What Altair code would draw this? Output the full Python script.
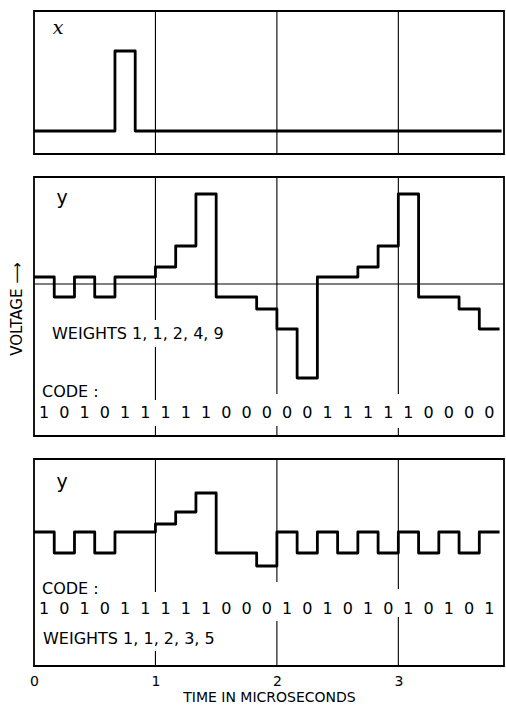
import altair as alt
import pandas as pd

FONT = "DejaVu Sans"
BIT = 1 / 6          # one code digit lasts 1/6 microsecond
T_END = 3.87         # right edge of the time axis (microseconds)
X_LINE_END = 3.85    # where the input trace stops
WIDTH = 470

# input x: a single pulse one digit long
x_levels = [0, 0, 0, 0, 1, 0, 0, 0, 0, 0, 0, 0, 0, 0, 0, 0, 0, 0, 0, 0, 0, 0, 0]

# output y with weights 1,1,2,4,9 (one level per code digit)
code_a = [1, 0, 1, 0, 1, 1, 1, 1, 1, 0, 0, 0, 0, 0, 1, 1, 1, 1, 1, 0, 0, 0, 0]
y_a_levels = [0.7, -1.3, 0.7, -1.3, 0.7, 0.7, 1.7, 3.8, 9.0, -1.3, -1.3, -2.5,
              -4.5, -9.4, 0.7, 0.7, 1.7, 3.8, 9.0, -1.3, -1.3, -2.5, -4.5]

# output y with weights 1,1,2,3,5
code_b = [1, 0, 1, 0, 1, 1, 1, 1, 1, 0, 0, 0, 1, 0, 1, 0, 1, 0, 1, 0, 1, 0, 1]
y_b_levels = [0.7, -1.4, 0.7, -1.4, 0.7, 0.7, 1.5, 2.7, 4.6, -1.4, -1.4, -2.7,
              0.7, -1.4, 0.7, -1.4, 0.7, -1.4, 0.7, -1.4, 0.7, -1.4, 0.7]

grid_times = [1, 2, 3]
tick_values = [0, 1, 2, 3]

time_axis = alt.Axis(
    values=tick_values, format="d", labelFlush=False, domain=False, ticks=False,
    grid=False, labelFont=FONT, labelFontSize=14, labelColor="black", labelPadding=8,
    title="TIME IN MICROSECONDS", titleFont=FONT, titleFontSize=14,
    titleFontWeight="normal", titleColor="black", titlePadding=2,
)


def xenc(axis):
    return alt.X("t:Q", scale=alt.Scale(domain=[0, T_END], nice=False, zero=False), axis=axis)


def yenc(domain):
    return alt.Y("v:Q", scale=alt.Scale(domain=domain, nice=False, zero=False), axis=None)


def steps(levels, end):
    t = [i * BIT for i in range(len(levels))] + [end]
    v = list(levels) + [levels[-1]]
    return pd.DataFrame({"t": t, "v": v})


def signal(levels, end, domain, axis):
    return alt.Chart(steps(levels, end)).mark_line(
        interpolate="step-after", color="black", strokeWidth=2.8, strokeJoin="round"
    ).encode(x=xenc(axis), y=yenc(domain))


def grid(spans, axis):
    # vertical time grid, broken where lettering crosses it
    layers = []
    for t, segs in spans.items():
        for y0, y1 in segs:
            layers.append(
                alt.Chart(pd.DataFrame({"t": [t]}))
                .mark_rule(color="black", strokeWidth=1.1, strokeCap="butt")
                .encode(x=xenc(axis), y=alt.value(y0), y2=alt.value(y1))
            )
    return layers


def label(s, x, y, size=16, font=FONT, style="normal", align="left", angle=0):
    return alt.Chart(pd.DataFrame({"s": [s]})).mark_text(
        align=align, baseline="middle", font=font, fontSize=size, fontStyle=style,
        color="black", angle=angle,
    ).encode(x=alt.value(x), y=alt.value(y), text="s:N")


def code_row(code, y, axis):
    df = pd.DataFrame({"t": [(i + 0.5) * BIT for i in range(len(code))],
                       "s": [str(c) for c in code]})
    return alt.Chart(df).mark_text(
        font=FONT, fontSize=16, baseline="middle", color="black"
    ).encode(x=xenc(axis), y=alt.value(y), text="s:N")


# panel 1: input pulse x
H1 = 143
dom1 = [-0.2875, 1.5]
p1 = alt.layer(
    *grid({t: [(1, H1 - 1)] for t in grid_times}, None),
    signal(x_levels, X_LINE_END, dom1, None),
    label("x", 24, 17, size=19, font="DejaVu Serif", style="italic", align="center"),
).properties(width=WIDTH, height=H1)

# panel 2: output for weights 1,1,2,4,9
H2 = 259
dom2 = [-15.2, 10.7]
zero_line = alt.Chart(pd.DataFrame({"v": [0]})).mark_rule(color="black", strokeWidth=1).encode(
    y=yenc(dom2)
)
p2 = alt.layer(
    *grid({1: [(1, 143), (170, 223), (249, H2 - 1)], 2: [(1, 217), (249, H2 - 1)],
           3: [(1, 217), (251, H2 - 1)]}, None),
    zero_line,
    signal(y_a_levels, len(y_a_levels) * BIT, dom2, None),
    label("y", 28, 21, size=19, align="center"),
    label("WEIGHTS  1, 1, 2, 4, 9", 18, 157),
    label("CODE :", 8, 215),
    code_row(code_a, 236, None),
    label("VOLTAGE \u27f6", -17, 132, size=15, align="center", angle=270),
).properties(width=WIDTH, height=H2)

# panel 3: output for weights 1,1,2,3,5
H3 = 207
dom3 = [-12.7, 8.0]
p3 = alt.layer(
    *grid({1: [(1, 133), (192, H3 - 1)], 2: [(1, 123), (162, H3 - 1)],
           3: [(1, 130), (158, H3 - 1)]}, time_axis),
    signal(y_b_levels, len(y_b_levels) * BIT, dom3, time_axis),
    label("y", 28, 23, size=19, align="center"),
    label("CODE :", 8, 130),
    code_row(code_b, 150, time_axis),
    label("WEIGHTS  1, 1, 2, 3, 5", 9, 180),
).properties(width=WIDTH, height=H3)

chart = alt.vconcat(p1, p2, p3, spacing=21).properties(
    padding={"left": 9, "top": 10, "right": 0, "bottom": 0},
    background="white",
).configure_view(stroke="black", strokeWidth=1.8)

chart.save("out.html", embed_options={"renderer": "svg", "actions": False})
